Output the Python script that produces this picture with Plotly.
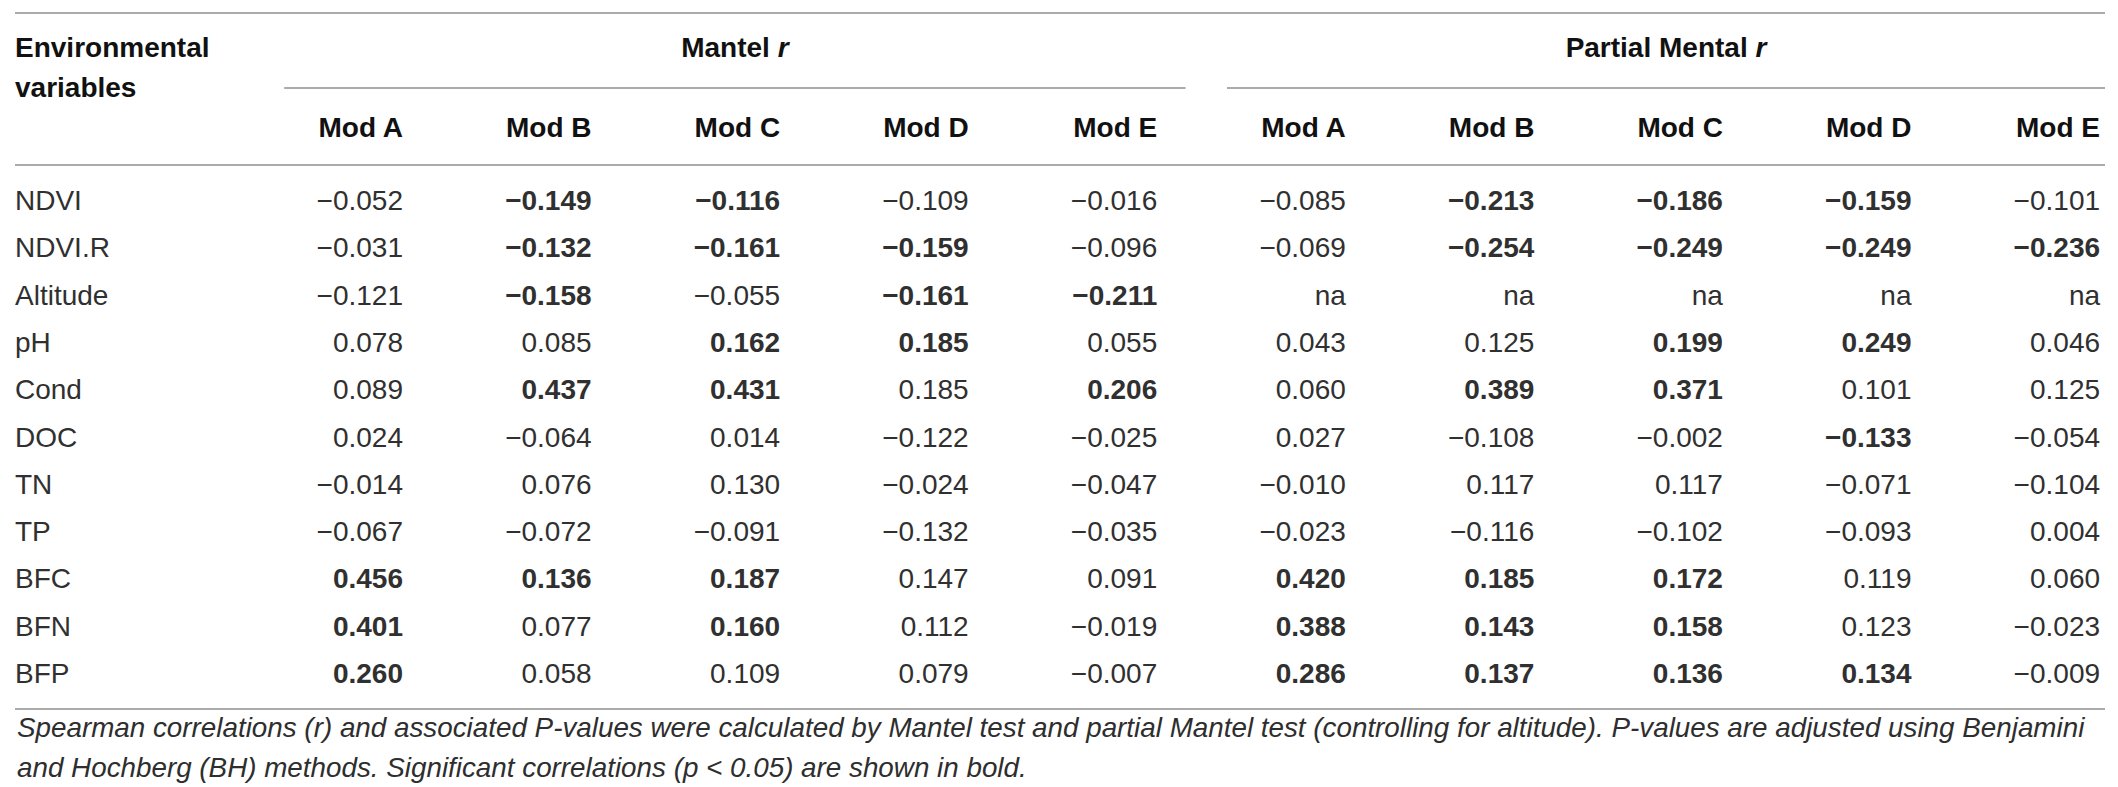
import plotly.graph_objects as go

print("Building Mantel / partial Mantel table...")

variables = ["NDVI", "NDVI.R", "Altitude", "pH", "Cond", "DOC", "TN", "TP", "BFC", "BFN", "BFP"]
models = ["Mod A", "Mod B", "Mod C", "Mod D", "Mod E"]
groups = ["Mantel <i>r</i>", "Partial Mental <i>r</i>"]

# Mantel r (rows follow `variables`)
mantel_a = [-0.052, -0.031, -0.121, 0.078, 0.089, 0.024, -0.014, -0.067, 0.456, 0.401, 0.260]
mantel_b = [-0.149, -0.132, -0.158, 0.085, 0.437, -0.064, 0.076, -0.072, 0.136, 0.077, 0.058]
mantel_c = [-0.116, -0.161, -0.055, 0.162, 0.431, 0.014, 0.130, -0.091, 0.187, 0.160, 0.109]
mantel_d = [-0.109, -0.159, -0.161, 0.185, 0.185, -0.122, -0.024, -0.132, 0.147, 0.112, 0.079]
mantel_e = [-0.016, -0.096, -0.211, 0.055, 0.206, -0.025, -0.047, -0.035, 0.091, -0.019, -0.007]

# Partial Mantel r (None = na, altitude is the controlled variable)
partial_a = [-0.085, -0.069, None, 0.043, 0.060, 0.027, -0.010, -0.023, 0.420, 0.388, 0.286]
partial_b = [-0.213, -0.254, None, 0.125, 0.389, -0.108, 0.117, -0.116, 0.185, 0.143, 0.137]
partial_c = [-0.186, -0.249, None, 0.199, 0.371, -0.002, 0.117, -0.102, 0.172, 0.158, 0.136]
partial_d = [-0.159, -0.249, None, 0.249, 0.101, -0.133, -0.071, -0.093, 0.119, 0.123, 0.134]
partial_e = [-0.101, -0.236, None, 0.046, 0.125, -0.054, -0.104, 0.004, 0.060, -0.023, -0.009]

# Significance flags (p < 0.05 after BH) -> bold
mantel_a_sig = [0, 0, 0, 0, 0, 0, 0, 0, 1, 1, 1]
mantel_b_sig = [1, 1, 1, 0, 1, 0, 0, 0, 1, 0, 0]
mantel_c_sig = [1, 1, 0, 1, 1, 0, 0, 0, 1, 1, 0]
mantel_d_sig = [0, 1, 1, 1, 0, 0, 0, 0, 0, 0, 0]
mantel_e_sig = [0, 0, 1, 0, 1, 0, 0, 0, 0, 0, 0]
partial_a_sig = [0, 0, 0, 0, 0, 0, 0, 0, 1, 1, 1]
partial_b_sig = [1, 1, 0, 0, 1, 0, 0, 0, 1, 1, 1]
partial_c_sig = [1, 1, 0, 1, 1, 0, 0, 0, 1, 1, 1]
partial_d_sig = [1, 1, 0, 1, 0, 1, 0, 0, 0, 0, 1]
partial_e_sig = [0, 1, 0, 0, 0, 0, 0, 0, 0, 0, 0]

caption = ["Spearman correlations (<i>r</i>) and associated P-values were calculated by Mantel test and "
           "partial Mantel test (controlling for altitude). P-values are adjusted using Benjamini",
           "and Hochberg (BH) methods. Significant correlations (<i>p</i> &lt; 0.05) are shown in bold."]

columns = [mantel_a, mantel_b, mantel_c, mantel_d, mantel_e,
           partial_a, partial_b, partial_c, partial_d, partial_e]
sig_cols = [mantel_a_sig, mantel_b_sig, mantel_c_sig, mantel_d_sig, mantel_e_sig,
            partial_a_sig, partial_b_sig, partial_c_sig, partial_d_sig, partial_e_sig]

# layout constants (x = column index, y = row index)
W, H = 2118, 787
COL_PX = 188.56           # px per column
X0 = 1 - 395 / COL_PX     # left edge of the page in column units
ROW_PX = 47.3             # px per body row
Y0 = -195 / ROW_PX        # top edge of the page in row units
LABEL_X = X0 + 7 / COL_PX
RIGHT_X = X0 + 2097 / COL_PX
FONT = "Liberation Sans, Arial, sans-serif"
SIZE = 28
TXT = "#303030"
RULE = "#8f8f8f"


def fmt(v, bold):
    if v is None:
        return "na"
    s = f"{abs(v):.3f}"
    if v < 0:
        s = "\u2212" + s
    return f"<b>{s}</b>" if bold else s


fig = go.Figure()

# row labels
fig.add_trace(go.Scatter(
    x=[LABEL_X] * len(variables), y=list(range(len(variables))),
    text=variables, mode="text", textposition="middle right",
    textfont=dict(family=FONT, size=SIZE, color=TXT),
    hoverinfo="skip", showlegend=False))

# body cells, one trace per column
for i, (vals, sig) in enumerate(zip(columns, sig_cols)):
    fig.add_trace(go.Scatter(
        x=[i + 1] * len(vals), y=list(range(len(vals))),
        text=[fmt(v, b) for v, b in zip(vals, sig)],
        mode="text", textposition="middle left",
        textfont=dict(family=FONT, size=SIZE, color=TXT),
        hoverinfo="skip", showlegend=False))

# column headers
hdr_x = list(range(1, len(columns) + 1))
fig.add_trace(go.Scatter(
    x=hdr_x, y=[(122 - 195) / ROW_PX] * len(hdr_x),
    text=[f"<b>{m}</b>" for m in models * 2],
    mode="text", textposition="middle left",
    textfont=dict(family=FONT, size=SIZE, color="#111111"),
    hoverinfo="skip", showlegend=False))

# stub header
fig.add_trace(go.Scatter(
    x=[LABEL_X, LABEL_X], y=[(42 - 195) / ROW_PX, (82 - 195) / ROW_PX],
    text=["<b>Environmental</b>", "<b>variables</b>"],
    mode="text", textposition="middle right",
    textfont=dict(family=FONT, size=SIZE, color="#111111"),
    hoverinfo="skip", showlegend=False))

# group headers and their underlines
spans = [(1, 5), (6, 10)]
grp_y = (42 - 195) / ROW_PX
rule_y = (80 - 195) / ROW_PX
for g, (a, b) in zip(groups, spans):
    left = a - 0.63
    right = b + 0.15 if b < 10 else RIGHT_X
    fig.add_trace(go.Scatter(
        x=[(left + right) / 2], y=[grp_y], text=[f"<b>{g}</b>"],
        mode="text", textposition="middle center",
        textfont=dict(family=FONT, size=SIZE, color="#111111"),
        hoverinfo="skip", showlegend=False))
    fig.add_shape(type="line", xref="x", yref="y", x0=left, x1=right,
                  y0=rule_y, y1=rule_y, line=dict(color=RULE, width=1.5))

# full-width rules: top, below header, bottom
for py in [5, 157, 701]:
    yy = (py - 195) / ROW_PX
    fig.add_shape(type="line", xref="x", yref="y", x0=LABEL_X, x1=RIGHT_X,
                  y0=yy, y1=yy, line=dict(color=RULE, width=1.5))

# footnote (annotation box adds a little padding, so nudge up)
for line, py in zip(caption, [719, 759]):
    fig.add_annotation(
        x=LABEL_X, y=(py - 195) / ROW_PX, xref="x", yref="y",
        text=line, showarrow=False, xanchor="left", yanchor="middle",
        font=dict(family=FONT, size=27.8, color="#2e2e2e", style="italic"))

fig.update_layout(
    width=W, height=H,
    margin=dict(l=0, r=0, t=0, b=0),
    paper_bgcolor="white", plot_bgcolor="white",
    xaxis=dict(range=[X0, X0 + W / COL_PX], visible=False, fixedrange=True),
    yaxis=dict(range=[Y0 + H / ROW_PX, Y0], visible=False, fixedrange=True),
    showlegend=False,
)

fig.write_html("out.html")
print("done")
